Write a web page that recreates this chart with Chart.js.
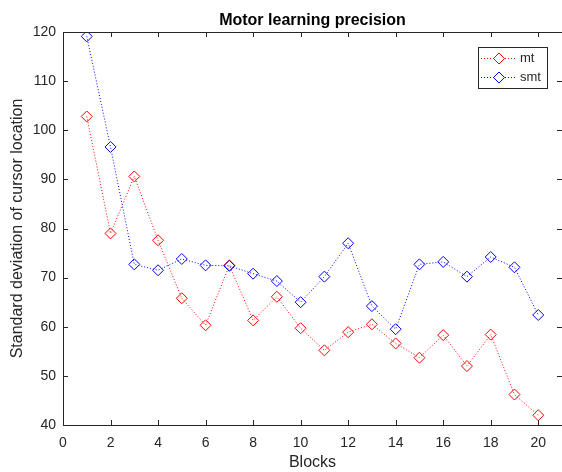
<!DOCTYPE html>
<html>
<head>
<meta charset="utf-8">
<title>Motor learning precision</title>
<script src="https://cdn.jsdelivr.net/npm/chart.js@4"></script>
<style>
  html, body { margin: 0; padding: 0; background: #fff; }
  #wrap { width: 562px; height: 472px; }
</style>
</head>
<body>
<div id="wrap"><canvas id="precisionChart" width="562" height="472"></canvas></div>
<script>
const blocks = [1, 2, 3, 4, 5, 6, 7, 8, 9, 10, 11, 12, 13, 14, 15, 16, 17, 18, 19, 20];
const mtValues = [102.8, 79.0, 90.6, 77.6, 65.8, 60.3, 72.5, 61.3, 66.1, 59.7,
                  55.2, 58.9, 60.5, 56.6, 53.7, 58.3, 52.0, 58.4, 46.2, 42.0];
const smtValues = [119.1, 96.6, 72.7, 71.5, 73.8, 72.5, 72.4, 70.8, 69.3, 65.0,
                   70.2, 77.0, 64.2, 59.5, 72.7, 73.2, 70.2, 74.2, 72.1, 62.4];
const xTicks = [0, 2, 4, 6, 8, 10, 12, 14, 16, 18, 20];
const yTicks = [40, 50, 60, 70, 80, 90, 100, 110, 120];

const axisColor = '#262626';
const fontFamily = '"Liberation Sans", Arial, Helvetica, sans-serif';

function toPoints(values) {
    return blocks.map((b, i) => ({ x: b, y: values[i] }));
}

// axes box with inward ticks, title and legend, drawn on top like MATLAB does
const matlabAxes = {
    id: 'matlabAxes',
    afterDraw(chart) {
        const ctx = chart.ctx;
        const area = chart.chartArea;
        const xs = chart.scales.x;
        const ys = chart.scales.y;
        const tickLen = 5;

        ctx.save();
        ctx.strokeStyle = axisColor;
        ctx.lineWidth = 1;
        // right edge of the box sits just past the canvas edge
        ctx.beginPath();
        ctx.moveTo(area.left + 0.5, area.top + 0.5);
        ctx.lineTo(area.right + 0.5, area.top + 0.5);
        ctx.lineTo(area.right + 0.5, area.bottom + 0.5);
        ctx.lineTo(area.left + 0.5, area.bottom + 0.5);
        ctx.closePath();
        ctx.stroke();

        ctx.beginPath();
        xTicks.forEach(v => {
            const px = Math.round(xs.getPixelForValue(v)) + 0.5;
            ctx.moveTo(px, area.bottom);
            ctx.lineTo(px, area.bottom - tickLen);
            ctx.moveTo(px, area.top);
            ctx.lineTo(px, area.top + tickLen);
        });
        yTicks.forEach(v => {
            const py = Math.round(ys.getPixelForValue(v)) + 0.5;
            ctx.moveTo(area.left, py);
            ctx.lineTo(area.left + tickLen, py);
            ctx.moveTo(area.right, py);
            ctx.lineTo(area.right - tickLen, py);
        });
        ctx.stroke();

        // title
        ctx.fillStyle = '#000';
        ctx.font = 'bold 16px ' + fontFamily;
        ctx.textAlign = 'center';
        ctx.textBaseline = 'alphabetic';
        ctx.fillText('Motor learning precision', (area.left + area.right) / 2, 25);

        // legend
        const box = { x: 478.5, y: 47.5, w: 69, h: 41 };
        ctx.fillStyle = '#fff';
        ctx.fillRect(box.x, box.y, box.w, box.h);
        ctx.strokeStyle = axisColor;
        ctx.strokeRect(box.x, box.y, box.w, box.h);
        chart.data.datasets.forEach((ds, i) => {
            const y = 58.5 + i * 19;
            ctx.save();
            ctx.strokeStyle = ds.borderColor;
            ctx.setLineDash(ds.borderDash);
            ctx.beginPath();
            ctx.moveTo(481, y);
            ctx.lineTo(516, y);
            ctx.stroke();
            ctx.restore();
            ctx.save();
            ctx.strokeStyle = ds.borderColor;
            ctx.fillStyle = '#fff';
            Chart.helpers.drawPoint(ctx, { pointStyle: 'rectRot', radius: 5.5, rotation: 0, borderWidth: 1 }, 499, y);
            ctx.restore();
            ctx.fillStyle = axisColor;
            ctx.font = '13px ' + fontFamily;
            ctx.textAlign = 'left';
            ctx.textBaseline = 'middle';
            ctx.fillText(ds.label, 520, y);
        });
        ctx.restore();
    }
};

const ctx = document.getElementById('precisionChart').getContext('2d');

new Chart(ctx, {
    type: 'line',
    data: {
        datasets: [{
            label: 'mt',
            data: toPoints(mtValues),
            borderColor: '#ff0000',
            borderWidth: 1,
            borderDash: [1, 2],
            pointStyle: 'rectRot',
            pointRadius: 5.5,
            pointBorderWidth: 1,
            pointBackgroundColor: 'rgba(0,0,0,0)',
            pointBorderColor: '#ff0000',
            fill: false,
            tension: 0,
            order: 1
        }, {
            label: 'smt',
            data: toPoints(smtValues),
            borderColor: '#0000ff',
            borderWidth: 1,
            borderDash: [1, 2],
            pointStyle: 'rectRot',
            pointRadius: 5.5,
            pointBorderWidth: 1,
            pointBackgroundColor: 'rgba(0,0,0,0)',
            pointBorderColor: '#0000ff',
            fill: false,
            tension: 0,
            order: 0
        }]
    },
    options: {
        responsive: false,
        animation: false,
        devicePixelRatio: 1,
        layout: {
            autoPadding: false,
            padding: { top: 32, right: 0, left: 0, bottom: 0 }
        },
        plugins: {
            legend: { display: false },
            title: { display: false },
            tooltip: { enabled: false }
        },
        scales: {
            x: {
                type: 'linear',
                min: 0,
                max: 21,
                afterBuildTicks: scale => { scale.ticks = xTicks.map(v => ({ value: v })); },
                afterFit: scale => { scale.height = 47; },
                border: { display: false },
                grid: { display: false, drawTicks: false },
                ticks: {
                    color: axisColor,
                    padding: 10,
                    maxRotation: 0,
                    font: { family: fontFamily, size: 14 }
                },
                title: {
                    display: true,
                    text: 'Blocks',
                    color: axisColor,
                    padding: { top: 0, bottom: 0 },
                    font: { family: fontFamily, size: 16 }
                }
            },
            y: {
                type: 'linear',
                min: 40,
                max: 120,
                afterBuildTicks: scale => { scale.ticks = yTicks.map(v => ({ value: v })); },
                afterFit: scale => { scale.width = 63; },
                border: { display: false },
                grid: { display: false, drawTicks: false },
                ticks: {
                    color: axisColor,
                    padding: 7,
                    font: { family: fontFamily, size: 14 }
                },
                title: {
                    display: true,
                    text: 'Standard deviation of cursor location',
                    color: axisColor,
                    padding: { top: 8, bottom: 0 },
                    font: { family: fontFamily, size: 16 }
                }
            }
        }
    },
    plugins: [matlabAxes]
});
</script>
</body>
</html>
